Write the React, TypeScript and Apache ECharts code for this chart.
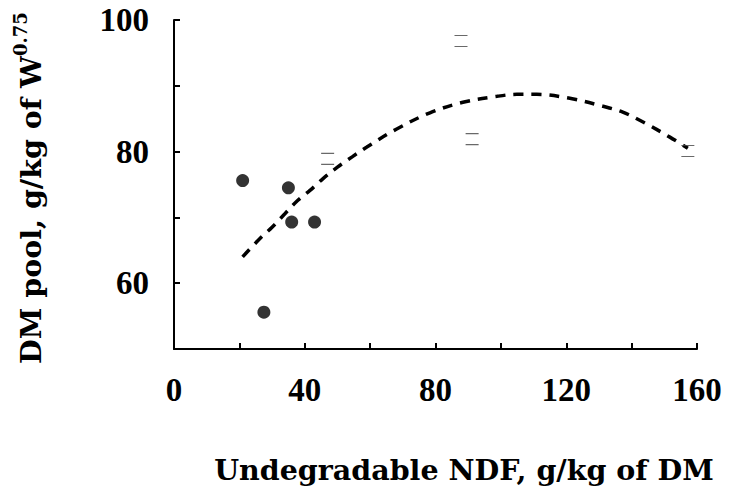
import React, { useEffect, useRef } from "react";
import * as echarts from "echarts";

const filledX = [21, 27.5, 35, 36, 43];
const filledY = [75.6, 55.6, 74.5, 69.3, 69.3];
const openX = [47, 87.8, 91.2, 157.2];
const openY = [78.9, 96.8, 81.9, 80.1];
const curveX = [21, 26.3, 30, 34, 37.9, 41.6, 45.6, 49.9, 54.5, 59, 68, 78.3, 88.4, 98.8, 104.9, 111, 121.1, 131.2, 137.3, 143.5, 151.7, 157.2];
const curveY = [64.0, 66.8, 68.5, 70.6, 72.6, 74.1, 75.9, 77.6, 79.2, 80.7, 83.4, 85.9, 87.5, 88.4, 88.7, 88.7, 88.1, 86.9, 86.0, 84.5, 82.2, 80.5];
const xTickLabels = ["0", "40", "80", "120", "160"];
const yTickLabels = ["60", "80", "100"];

const FONT = "Liberation Serif";
const TITLE_FONT = "DejaVu Serif";

export default function App() {
  const ref = useRef<HTMLDivElement>(null);
  useEffect(() => {
    document.body.style.margin = "0";
    if (!ref.current) return;
    const chart = echarts.init(ref.current, null, { renderer: "svg" });
    chart.setOption({
      animation: false,
      backgroundColor: "#fff",
      grid: { left: 174, right: 32, top: 20, bottom: 147, containLabel: false },
      xAxis: {
        type: "value",
        min: 0,
        max: 160,
        interval: 20,
        axisLine: { show: true, lineStyle: { color: "#000", width: 2 } },
        axisTick: { show: true, inside: true, length: 6, lineStyle: { color: "#000", width: 2 } },
        splitLine: { show: false },
        axisLabel: {
          margin: 24,
          color: "#000",
          fontFamily: FONT,
          fontWeight: "bold",
          fontSize: 33,
          formatter: (v: number) => (xTickLabels.includes(String(v)) ? String(v) : ""),
        },
      },
      yAxis: {
        type: "value",
        min: 50,
        max: 100,
        interval: 10,
        axisLine: { show: true, lineStyle: { color: "#000", width: 2 } },
        axisTick: { show: true, inside: true, length: 6, lineStyle: { color: "#000", width: 2 } },
        splitLine: { show: false },
        axisLabel: {
          margin: 25,
          color: "#000",
          fontFamily: FONT,
          fontWeight: "bold",
          fontSize: 33,
          formatter: (v: number) => (yTickLabels.includes(String(v)) ? String(v) : ""),
        },
      },
      graphic: [
        {
          type: "text",
          x: 464,
          y: 470,
          style: {
            text: "Undegradable NDF, g/kg of DM",
            align: "center",
            verticalAlign: "middle",
            fontFamily: TITLE_FONT,
            fontWeight: "bold",
            fontSize: 28.5,
            fill: "#000",
          },
        },
        {
          type: "text",
          x: 28,
          y: 188,
          rotation: Math.PI / 2,
          style: {
            text: "{a|DM pool, g/kg of W}{s|0.75}",
            align: "center",
            verticalAlign: "middle",
            rich: {
              a: { fontFamily: TITLE_FONT, fontWeight: "bold", fontSize: 28.5, fill: "#000", lineHeight: 34, verticalAlign: "bottom" },
              s: { fontFamily: TITLE_FONT, fontWeight: "bold", fontSize: 18, fill: "#000", lineHeight: 34, verticalAlign: "top" },
            },
          },
        },
      ],
      series: [
        {
          type: "line",
          data: curveX.map((x, i) => [x, curveY[i]]),
          smooth: 0.35,
          showSymbol: false,
          symbol: "none",
          lineStyle: { color: "#000", width: 3.5, type: [10, 8] },
          z: 2,
        },
        {
          type: "scatter",
          data: filledX.map((x, i) => [x, filledY[i]]),
          symbol: "circle",
          symbolSize: 13,
          itemStyle: { color: "#000" },
          z: 3,
        },
        {
          type: "scatter",
          data: openX.map((x, i) => [x, openY[i]]),
          symbol: "path://M0,0H12M0,11H12",
          symbolSize: [13, 11],
          itemStyle: { color: "transparent", borderColor: "#444", borderWidth: 1.2 },
          z: 3,
        },
      ],
    });
    return () => chart.dispose();
  }, []);
  return <div ref={ref} style={{ width: 729, height: 496 }} />;
}
